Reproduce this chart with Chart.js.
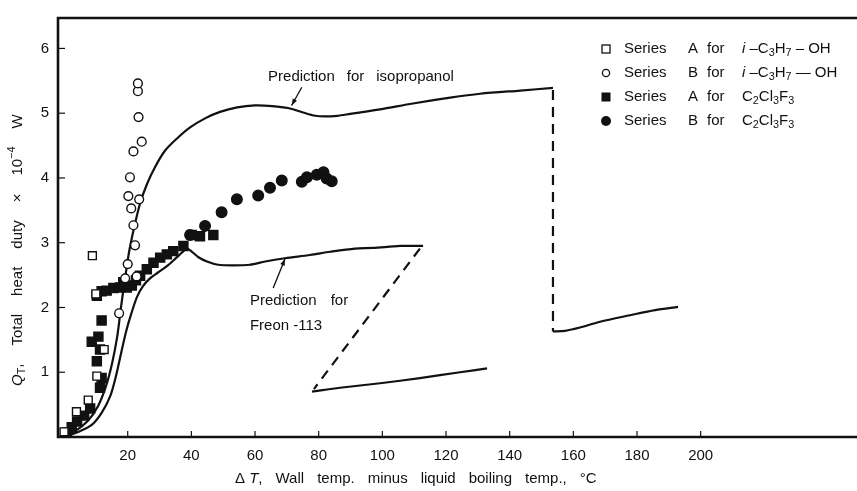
<!DOCTYPE html>
<html>
<head>
<meta charset="utf-8">
<script src="https://cdn.jsdelivr.net/npm/chart.js@4.4.1/dist/chart.umd.min.js"></script>
<style>
  html, body { margin: 0; padding: 0; background: #fff; overflow: hidden; }
  #wrap { width: 880px; height: 491px; }
</style>
</head>
<body>
<div id="wrap"><canvas id="heatDutyChart" width="880" height="491"></canvas></div>
<script>
// axis setup
const xTicks = [20, 40, 60, 80, 100, 120, 140, 160, 180, 200];
const yTicks = [1, 2, 3, 4, 5, 6];
const X_MIN = -1.9, X_MAX = 253.2;
const Y_MIN = 0, Y_MAX = 6.47;

// Series A for i-C3H7-OH (open squares)
const isoA_dT = [0, 3.9, 7.6, 10.3, 12.6, 10.0, 8.9];
const isoA_Q  = [0.08, 0.39, 0.57, 0.94, 1.35, 2.21, 2.80];

// Series B for i-C3H7-OH (open circles)
const isoB_dT = [17.3, 22.8, 19.2, 20.0, 22.3, 21.8, 21.1, 23.6, 20.2, 20.7, 21.8, 24.4, 23.4, 23.2, 23.2];
const isoB_Q  = [1.91, 2.48, 2.45, 2.67, 2.96, 3.27, 3.53, 3.67, 3.72, 4.01, 4.41, 4.56, 4.94, 5.34, 5.46];

// Series A for C2Cl3F3 (filled squares)
const frA_dT = [0.9, 2.4, 4.1, 6.3, 8.2, 11.3, 11.8, 10.3, 11.3, 8.7, 10.8, 11.8, 10.3, 11.8, 13.4, 15.5,
                17.6, 19.7, 21.3, 18.6, 22.6, 23.9, 26.0, 28.1, 30.2, 32.3, 34.3, 37.5, 40.1, 42.7, 46.9];
const frA_Q  = [0.07, 0.15, 0.24, 0.33, 0.44, 0.76, 0.91, 1.17, 1.35, 1.47, 1.55, 1.80, 2.18, 2.25, 2.26, 2.30,
                2.31, 2.31, 2.34, 2.39, 2.42, 2.49, 2.59, 2.69, 2.77, 2.82, 2.87, 2.95, 3.12, 3.10, 3.12];

// Series B for C2Cl3F3 (filled circles)
const frB_dT = [39.6, 44.3, 49.5, 54.3, 61.0, 64.7, 68.4, 74.7, 76.3, 79.4, 81.5, 82.5, 84.1];
const frB_Q  = [3.12, 3.26, 3.47, 3.67, 3.73, 3.85, 3.96, 3.94, 4.01, 4.05, 4.09, 3.99, 3.95];

// Prediction for isopropanol
const isoPred_dT = [0, 3.5, 7.5, 10.7, 13.2, 15.1, 16.7, 17.9, 19.2, 20.4, 22.0, 23.9, 26.1, 28.6, 31.7, 35.5,
                    39.6, 44.3, 49.0, 54.4, 60.0, 65.4, 70.4, 75.1, 78.9, 82.0, 85.8, 89.9, 99.3, 109.6, 121.3,
                    130.7, 143.3, 153.6];
const isoPred_Q  = [0.01, 0.09, 0.25, 0.48, 0.79, 1.14, 1.55, 2.01, 2.46, 2.85, 3.23, 3.61, 3.91, 4.17, 4.42, 4.61,
                    4.78, 4.92, 5.02, 5.09, 5.12, 5.11, 5.08, 5.01, 4.96, 4.95, 4.96, 4.99, 5.06, 5.15, 5.24,
                    5.30, 5.35, 5.39];
const isoJump_dT = [153.6, 153.6];
const isoJump_Q  = [5.36, 1.63];
const isoFilm_dT = [153.6, 157.4, 162.1, 168.4, 177.8, 185.7, 192.9];
const isoFilm_Q  = [1.63, 1.64, 1.69, 1.78, 1.88, 1.96, 2.01];

// Prediction for Freon-113
const frPred_dT = [0, 5.0, 8.8, 11.9, 14.5, 16.3, 17.9, 19.5, 21.1, 22.9, 24.8, 27.0, 29.5, 32.1, 34.9, 37.1,
                   38.6, 40.2, 42.1, 44.9, 48.4, 53.1, 58.4, 63.2, 69.4, 77.3, 83.6, 91.4, 97.1, 105.6, 112.8];
const frPred_Q  = [0, 0.09, 0.19, 0.38, 0.63, 0.94, 1.29, 1.63, 1.90, 2.16, 2.33, 2.45, 2.54, 2.63, 2.75, 2.85,
                   2.91, 2.86, 2.78, 2.71, 2.66, 2.65, 2.66, 2.71, 2.76, 2.81, 2.86, 2.91, 2.92, 2.95, 2.95];
const frJump_dT = [111.8, 78.5];
const frJump_Q  = [2.91, 0.74];
const frFilm_dT = [77.9, 86.7, 99.3, 111.8, 124.4, 132.9];
const frFilm_Q  = [0.70, 0.76, 0.83, 0.91, 1.00, 1.06];

const FONT = '"Liberation Sans", Arial, sans-serif';
const INK = '#111';

function pts(xs, ys) { return xs.map((x, i) => ({ x: x, y: ys[i] })); }

function markers(label, xs, ys, style, filled, r) {
    return {
        label: label, data: pts(xs, ys), showLine: false, order: 0,
        pointStyle: style, pointRadius: r, pointHoverRadius: r,
        pointBackgroundColor: filled ? INK : '#fff', pointBorderColor: INK, pointBorderWidth: 1.4
    };
}

function curve(label, xs, ys, dashed) {
    return {
        label: label, data: pts(xs, ys), showLine: true, order: 1,
        borderColor: INK, borderWidth: 2.2, pointRadius: 0, tension: dashed ? 0 : 0.3,
        borderDash: dashed ? [10, 7] : []
    };
}

// draw text made of plain / italic / sub / sup parts, returns end x
function rich(ctx, parts, x, y, size) {
    let cx = x;
    parts.forEach(p => {
        const kind = p[1] || '';
        const s = (kind === 'sub' || kind === 'sup') ? size * 0.72 : size;
        ctx.font = (kind === 'i' ? 'italic ' : '') + s + 'px ' + FONT;
        const dy = kind === 'sub' ? size * 0.3 : (kind === 'sup' ? -size * 0.42 : 0);
        ctx.fillText(p[0], cx, y + dy);
        cx += ctx.measureText(p[0]).width;
    });
    return cx;
}

// words are widely spaced in the original typesetting
function words(ctx, list, x, y, size, gap) {
    let cx = x;
    list.forEach(w => { cx = rich(ctx, w, cx, y, size) + gap; });
    return cx;
}

function arrow(ctx, x0, y0, x1, y1) {
    const ang = Math.atan2(y1 - y0, x1 - x0);
    ctx.beginPath();
    ctx.moveTo(x0, y0); ctx.lineTo(x1, y1); ctx.stroke();
    ctx.beginPath();
    ctx.moveTo(x1, y1);
    ctx.lineTo(x1 - 7 * Math.cos(ang - 0.35), y1 - 7 * Math.sin(ang - 0.35));
    ctx.lineTo(x1 - 7 * Math.cos(ang + 0.35), y1 - 7 * Math.sin(ang + 0.35));
    ctx.closePath(); ctx.fill();
}

const decorations = {
    id: 'decorations',
    afterDraw(chart) {
        const ctx = chart.ctx, a = chart.chartArea;
        const xs = chart.scales.x, ys = chart.scales.y;
        const px = v => xs.getPixelForValue(v), py = v => ys.getPixelForValue(v);
        ctx.save();
        ctx.strokeStyle = INK; ctx.fillStyle = INK;

        // frame
        ctx.lineWidth = 2.6;
        ctx.beginPath();
        ctx.moveTo(a.right + 20, a.top); ctx.lineTo(a.left, a.top);
        ctx.lineTo(a.left, a.bottom); ctx.lineTo(a.right + 20, a.bottom);
        ctx.stroke();

        // inward tick marks
        ctx.lineWidth = 1.2;
        xs.ticks.forEach(t => {
            const p = px(t.value);
            ctx.beginPath(); ctx.moveTo(p, a.bottom); ctx.lineTo(p, a.bottom - 6); ctx.stroke();
        });
        ys.ticks.forEach(t => {
            const p = py(t.value);
            ctx.beginPath(); ctx.moveTo(a.left, p); ctx.lineTo(a.left + 7, p); ctx.stroke();
        });

        ctx.textBaseline = 'middle';
        ctx.textAlign = 'left';

        // legend
        const isoFormula = dash => [['i', 'i'], [' \u2013'], ['C'], ['3', 'sub'], ['H'], ['7', 'sub'], [' ' + dash + ' '], ['OH']];
        const frFormula = [['C'], ['2', 'sub'], ['Cl'], ['3', 'sub'], ['F'], ['3', 'sub']];
        const rows = [
            { y: 49, sym: 'osq', s: 'A', f: isoFormula('\u2013') },
            { y: 73, sym: 'oci', s: 'B', f: isoFormula('\u2014') },
            { y: 97, sym: 'fsq', s: 'A', f: frFormula },
            { y: 121, sym: 'fci', s: 'B', f: frFormula }
        ];
        rows.forEach(r => {
            const mx = 606, my = r.y;
            ctx.lineWidth = 1.3;
            if (r.sym === 'osq') { ctx.fillStyle = '#fff'; ctx.fillRect(mx - 4, my - 4, 8, 8); ctx.strokeRect(mx - 4, my - 4, 8, 8); }
            if (r.sym === 'oci') { ctx.beginPath(); ctx.arc(mx, my, 3.6, 0, Math.PI * 2); ctx.stroke(); }
            if (r.sym === 'fsq') { ctx.fillStyle = INK; ctx.fillRect(mx - 4.5, my - 4.5, 9, 9); }
            if (r.sym === 'fci') { ctx.fillStyle = INK; ctx.beginPath(); ctx.arc(mx, my, 5, 0, Math.PI * 2); ctx.fill(); }
            ctx.fillStyle = INK;
            rich(ctx, [['Series']], 624, my, 15);
            rich(ctx, [[r.s]], 688, my, 15);
            rich(ctx, [['for']], 707, my, 15);
            rich(ctx, r.f, 742, my, 15);
        });

        // curve labels with arrows
        ctx.lineWidth = 1.3;
        words(ctx, [[['Prediction']], [['for']], [['isopropanol']]], px(64.1), py(5.56), 15, 12);
        arrow(ctx, px(74.7), py(5.40), px(71.5), py(5.12));
        words(ctx, [[['Prediction']], [['for']]], px(58.4), py(2.10), 15, 14);
        words(ctx, [[['Freon'], [' -113']]], px(58.4), py(1.72), 15, 14);
        arrow(ctx, px(65.7), py(2.30), px(69.4), py(2.75));

        // x axis title
        words(ctx, [[['\u0394'], [' '], ['T', 'i'], [',']], [['Wall']], [['temp.']], [['minus']],
                    [['liquid']], [['boiling']], [['temp.,']], [['\u00b0C']]], 235, 479, 15, 13);

        // y axis title (rotated)
        ctx.translate(18, 386);
        ctx.rotate(-Math.PI / 2);
        words(ctx, [[['Q', 'i'], ['T', 'sub'], [',']], [['Total']], [['heat']], [['duty']], [['\u00d7']],
                    [['10'], ['\u22124', 'sup']], [['W']]], 0, 0, 15, 18);
        ctx.restore();
    }
};

const config = {
    type: 'scatter',
    data: {
        datasets: [
            markers('Series A for i-C3H7-OH', isoA_dT, isoA_Q, 'rect', false, 5.6),
            markers('Series B for i-C3H7-OH', isoB_dT, isoB_Q, 'circle', false, 4.4),
            markers('Series A for C2Cl3F3', frA_dT, frA_Q, 'rect', true, 6.4),
            markers('Series B for C2Cl3F3', frB_dT, frB_Q, 'circle', true, 5.3),
            curve('Prediction for isopropanol', isoPred_dT, isoPred_Q, false),
            curve('isopropanol transition', isoJump_dT, isoJump_Q, true),
            curve('isopropanol film boiling', isoFilm_dT, isoFilm_Q, false),
            curve('Prediction for Freon-113', frPred_dT, frPred_Q, false),
            curve('Freon-113 transition', frJump_dT, frJump_Q, true),
            curve('Freon-113 film boiling', frFilm_dT, frFilm_Q, false)
        ]
    },
    options: {
        responsive: false,
        animation: false,
        devicePixelRatio: 1,
        layout: { padding: { top: 12, right: 10, left: 0, bottom: 0 } },
        plugins: { legend: { display: false }, tooltip: { enabled: false } },
        scales: {
            x: {
                type: 'linear', min: X_MIN, max: X_MAX,
                afterBuildTicks: s => { s.ticks = xTicks.map(v => ({ value: v })); },
                afterFit: s => { s.height = 54; },
                grid: { display: false, drawTicks: false },
                border: { display: false },
                ticks: { padding: 10, color: INK, font: { size: 15, family: FONT }, maxRotation: 0, autoSkip: false }
            },
            y: {
                type: 'linear', min: Y_MIN, max: Y_MAX,
                afterBuildTicks: s => { s.ticks = yTicks.map(v => ({ value: v })); },
                afterFit: s => { s.width = 58; },
                grid: { display: false, drawTicks: false },
                border: { display: false },
                ticks: { padding: 9, color: INK, font: { size: 15, family: FONT } }
            }
        }
    },
    plugins: [decorations]
};

new Chart(document.getElementById('heatDutyChart'), config);
</script>
</body>
</html>
